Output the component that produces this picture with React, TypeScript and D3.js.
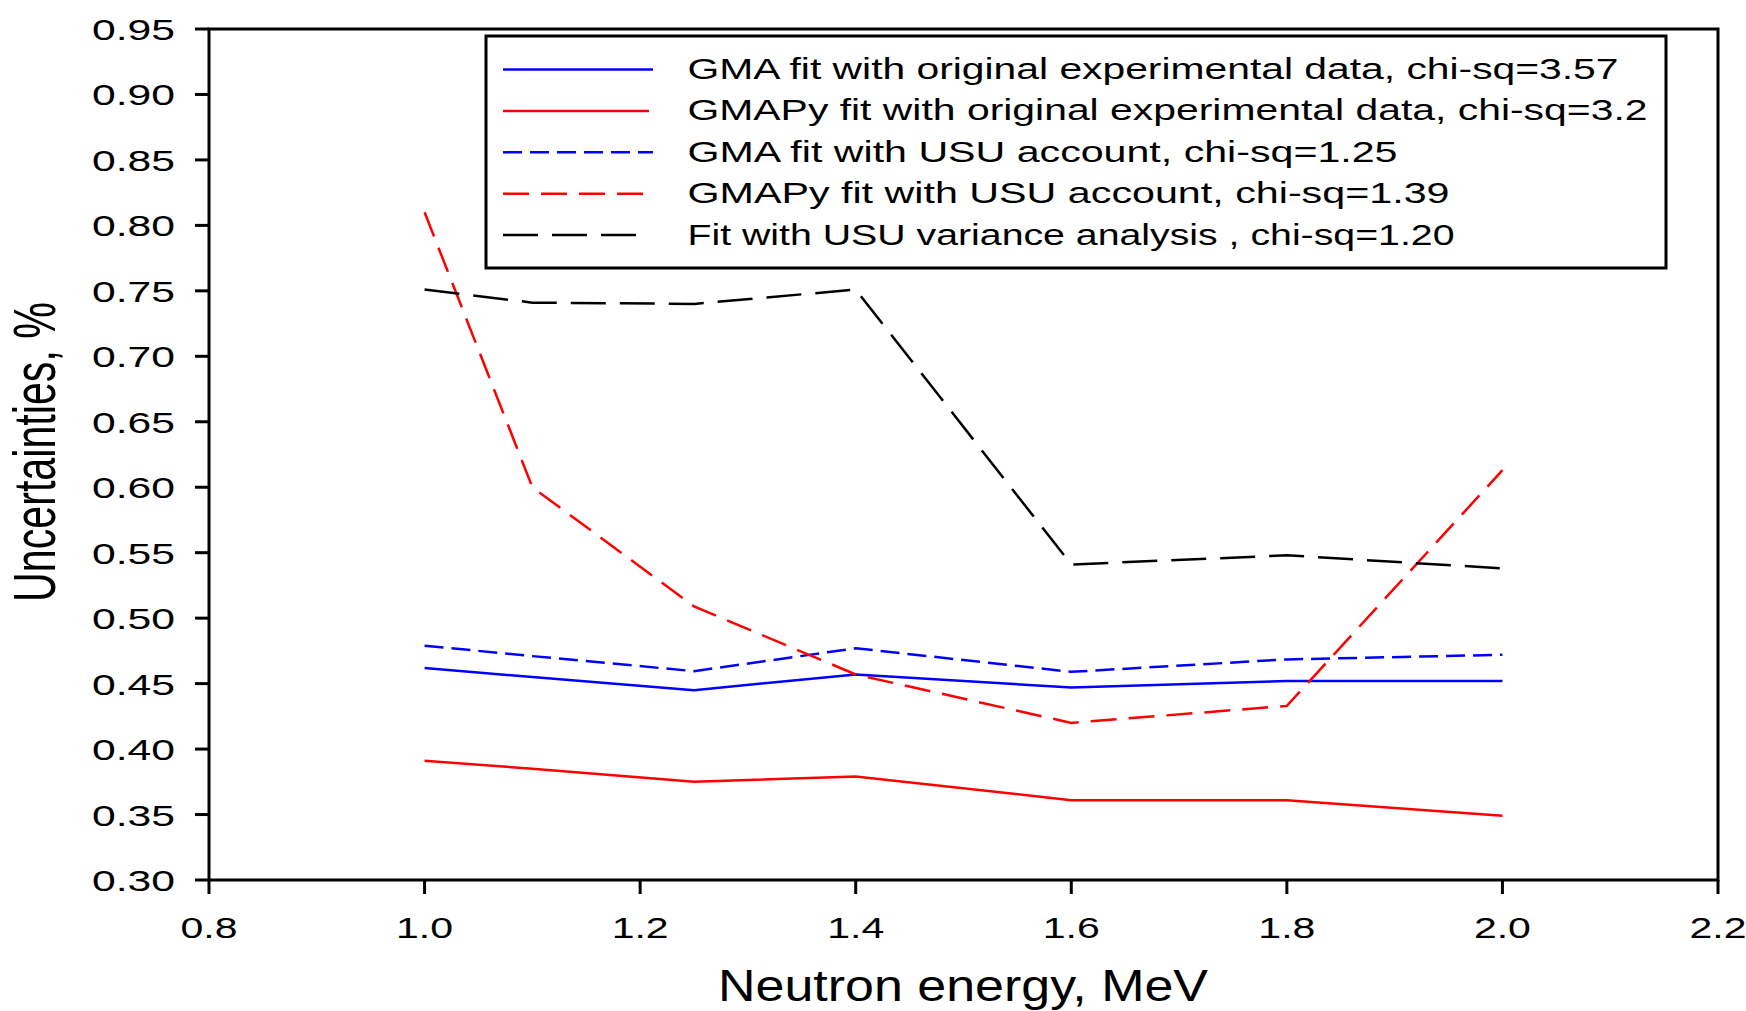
import React from "react";
import * as d3 from "d3";

const energies = [1.0, 1.1, 1.25, 1.4, 1.6, 1.8, 2.0];
const gmaOriginal = [0.462, 0.455, 0.445, 0.457, 0.447, 0.452, 0.452];
const gmapyOriginal = [0.391, 0.385, 0.375, 0.379, 0.361, 0.361, 0.349];
const gmaUSU = [0.479, 0.471, 0.4595, 0.477, 0.459, 0.4685, 0.472];
const gmapyUSU = [0.81, 0.6, 0.509, 0.457, 0.42, 0.433, 0.613];
const usuVariance = [0.751, 0.741, 0.74, 0.751, 0.541, 0.548, 0.538];

const xTicks = [0.8, 1.0, 1.2, 1.4, 1.6, 1.8, 2.0, 2.2];
const yTicks = [0.3, 0.35, 0.4, 0.45, 0.5, 0.55, 0.6, 0.65, 0.7, 0.75, 0.8, 0.85, 0.9, 0.95];

const legendLabels = [
  "GMA fit with original experimental data, chi-sq=3.57",
  "GMAPy fit with original experimental data, chi-sq=3.2",
  "GMA fit with USU  account, chi-sq=1.25",
  "GMAPy fit with USU account, chi-sq=1.39",
  "Fit with USU variance analysis , chi-sq=1.20",
];
const legendTextWidths = [931, 960, 710, 762, 767];
const legendSampleEnds = [653, 649, 653, 645, 636];

const seriesValues = [gmaOriginal, gmapyOriginal, gmaUSU, gmapyUSU, usuVariance];
const seriesColors = ["#0000ff", "#ff0000", "#0000ff", "#ff0000", "#000000"];
const seriesDashes = ["none", "none", "19,8", "26,12", "35,14"];

const FONT = "'Liberation Sans', Arial, Helvetica, sans-serif";

export default function App() {
  const W = 1746;
  const H = 1011;
  const x = d3.scaleLinear().domain([0.8, 2.2]).range([209, 1718]);
  const y = d3.scaleLinear().domain([0.3, 0.95]).range([880, 29]);

  const line = d3
    .line<[number, number]>()
    .x((d) => x(d[0]))
    .y((d) => y(d[1]));

  const legendX0 = 486;
  const legendY0 = 36;
  const legendX1 = 1666;
  const legendY1 = 268;

  return (
    <svg
      width={W}
      height={H}
      style={{ position: "absolute", left: 0, top: 0, background: "#fff" }}
      fontFamily={FONT}
    >
      <rect x={0} y={0} width={W} height={H} fill="#fff" />
      {/* data lines */}
      {seriesValues.map((vals, i) => (
        <path
          key={"s" + i}
          d={line(energies.map((e, j) => [e, vals[j]] as [number, number])) || ""}
          fill="none"
          stroke={seriesColors[i]}
          strokeWidth={2.5}
          strokeDasharray={seriesDashes[i]}
        />
      ))}

      {/* frame */}
      <rect
        x={x(0.8)}
        y={y(0.95)}
        width={x(2.2) - x(0.8)}
        height={y(0.3) - y(0.95)}
        fill="none"
        stroke="#000"
        strokeWidth={3}
      />
      {/* y ticks */}
      {yTicks.map((t) => (
        <g key={"yt" + t}>
          <line x1={x(0.8) - 14} x2={x(0.8)} y1={y(t)} y2={y(t)} stroke="#000" strokeWidth={3} />
          <text
            x={175}
            y={y(t) + 11}
            fontSize={30}
            textAnchor="end"
            textLength={83}
            lengthAdjust="spacingAndGlyphs"
            fill="#000"
          >
            {t.toFixed(2)}
          </text>
        </g>
      ))}
      {/* x ticks */}
      {xTicks.map((t) => (
        <g key={"xt" + t}>
          <line x1={x(t)} x2={x(t)} y1={y(0.3)} y2={y(0.3) + 14} stroke="#000" strokeWidth={3} />
          <text
            x={x(t) - 28.5}
            y={938}
            fontSize={29}
            textLength={57}
            lengthAdjust="spacingAndGlyphs"
            fill="#000"
          >
            {t.toFixed(1)}
          </text>
        </g>
      ))}

      {/* axis titles */}
      <text
        x={718}
        y={1001}
        fontSize={44}
        textLength={490}
        lengthAdjust="spacingAndGlyphs"
        fill="#000"
      >
        Neutron energy, MeV
      </text>
      <text
        transform="translate(55,602) scale(1.43,1) rotate(-90)"
        x={0}
        y={0}
        fontSize={41}
        textLength={300}
        lengthAdjust="spacingAndGlyphs"
        fill="#000"
      >
        Uncertainties, %
      </text>

      {/* legend */}
      <rect
        x={legendX0}
        y={legendY0}
        width={legendX1 - legendX0}
        height={legendY1 - legendY0}
        fill="#fff"
        stroke="#000"
        strokeWidth={3}
      />
      {legendLabels.map((lab, i) => {
        const base = 79 + i * 41.4;
        return (
          <g key={"lg" + i}>
            <line
              x1={503}
              x2={legendSampleEnds[i]}
              y1={base - 9.5}
              y2={base - 9.5}
              stroke={seriesColors[i]}
              strokeWidth={2.5}
              strokeDasharray={seriesDashes[i]}
            />
            <text
              x={687.5}
              y={base}
              fontSize={30}
              textLength={legendTextWidths[i]}
              lengthAdjust="spacingAndGlyphs"
              fill="#000"
            >
              {lab}
            </text>
          </g>
        );
      })}
    </svg>
  );
}
